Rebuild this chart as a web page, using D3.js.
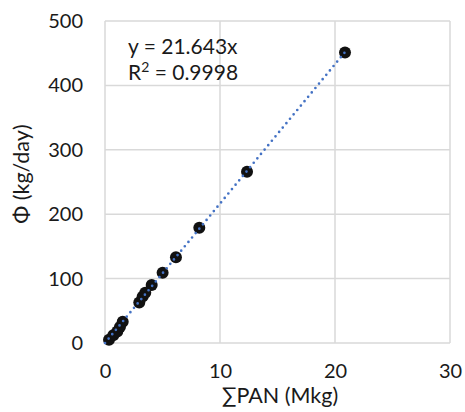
<!DOCTYPE html>
<html>
<head>
<meta charset="utf-8">
<script src="https://cdn.jsdelivr.net/npm/d3@7"></script>
<style>
  body { margin: 0; background: #fff; }
  text { font-family: Lato, "Open Sans", sans-serif; fill: #1a1a1a; }
</style>
</head>
<body>
<svg id="chart" width="465" height="412"></svg>
<script>
// data
const panMkg = [0.35, 0.72, 1.07, 1.3, 1.54, 2.98, 3.27, 3.5, 4.06, 5.01, 6.17, 8.2, 12.35, 20.87];
const phiKgDay = [5, 12, 18, 25, 33, 63, 72, 78, 90, 109, 133, 179, 266, 451];
const xTicks = [0, 10, 20, 30];
const yTicks = [0, 100, 200, 300, 400, 500];
const slope = 21.643;
const eqText = "y = 21.643x";
const r2Text = " = 0.9998";

const svg = d3.select("#chart");
const margin = { left: 105, right: 15, top: 21, bottom: 69 };
const height = 412 - margin.top - margin.bottom;

const x = d3.scaleLinear().domain([0, 30]).range([0, 345]);
const y = d3.scaleLinear().domain([0, 500]).range([height, 0]);

const g = svg.append("g").attr("transform", `translate(${margin.left},${margin.top})`);

// gridlines
g.append("g").selectAll("line").data(yTicks).enter().append("line")
    .attr("x1", 0).attr("x2", x(30))
    .attr("y1", d => y(d)).attr("y2", d => y(d))
    .attr("stroke", "#d9d9d9").attr("stroke-width", 1.5);
g.append("g").selectAll("line").data(xTicks).enter().append("line")
    .attr("x1", d => x(d)).attr("x2", d => x(d))
    .attr("y1", 0).attr("y2", height)
    .attr("stroke", "#d9d9d9").attr("stroke-width", 1.5);

// axes (labels only)
const yAxis = g.append("g")
    .call(d3.axisLeft(y).tickValues(yTicks).tickSize(0).tickPadding(22));
yAxis.select(".domain").remove();
yAxis.selectAll("text").style("font-size", "20px").attr("fill", "#1a1a1a");

const xAxis = g.append("g").attr("transform", `translate(0,${height})`)
    .call(d3.axisBottom(x).tickValues(xTicks).tickSize(0).tickPadding(21));
xAxis.select(".domain").remove();
xAxis.selectAll("text").style("font-size", "20px").attr("fill", "#1a1a1a");

// points
g.append("g").selectAll("circle").data(panMkg).enter().append("circle")
    .attr("cx", d => x(d))
    .attr("cy", (d, i) => y(phiKgDay[i]))
    .attr("r", 6)
    .attr("fill", "#111");

// trendline
g.append("line")
    .attr("x1", x(0)).attr("y1", y(0))
    .attr("x2", x(20.87)).attr("y2", y(slope * 20.87))
    .attr("stroke", "#4472c4").attr("stroke-width", 2.7)
    .attr("stroke-linecap", "round").attr("stroke-dasharray", "0,5.7");

// equation
g.append("text")
    .attr("x", 23).attr("y", 33)
    .style("font-size", "21px")
    .text(eqText);
const r2 = g.append("text")
    .attr("x", 23).attr("y", 59)
    .style("font-size", "21px");
r2.append("tspan").text("R");
r2.append("tspan").attr("dy", -8).style("font-size", "14px").text("2");
r2.append("tspan").attr("dy", 8).text(r2Text);

// axis titles
svg.append("text")
    .attr("x", 280).attr("y", 403)
    .attr("text-anchor", "middle")
    .style("font-size", "21.5px")
    .text("∑PAN (Mkg)");
svg.append("text")
    .attr("transform", "translate(29,174) rotate(-90)")
    .attr("text-anchor", "middle")
    .style("font-size", "21.5px")
    .text("Φ (kg/day)");
</script>
</body>
</html>
